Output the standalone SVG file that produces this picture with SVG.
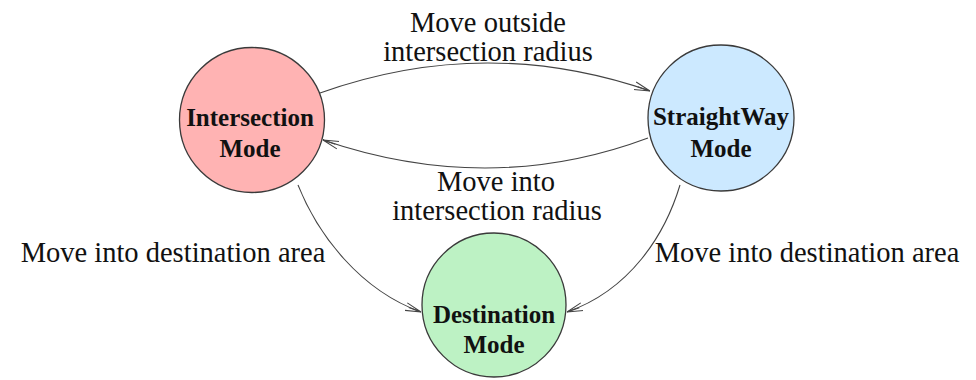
<svg xmlns="http://www.w3.org/2000/svg" width="976" height="380" viewBox="0 0 976 380">
<defs>
<style>
.node{stroke:#3a3a3a;stroke-width:1.3}
.nt{font-family:"Liberation Serif","Times New Roman",serif;font-weight:bold;font-size:25px;fill:#111;text-anchor:middle}
.lbl{font-family:"Liberation Serif","Times New Roman",serif;font-size:28.5px;fill:#111;text-anchor:middle}
.edge{fill:none;stroke:#444;stroke-width:1.1}
</style>
<marker id="arr" viewBox="0 0 16 10" refX="16" refY="5" markerWidth="16" markerHeight="10" markerUnits="userSpaceOnUse" orient="auto">
<path d="M0,1 L16,5 L0,9 M3,5 L16,5" fill="none" stroke="#444" stroke-width="1"/>
</marker>
</defs>
<rect width="976" height="380" fill="#fff"/>
<g id="connectors">
<path class="edge" d="M320,93 Q485,34 650,91" marker-end="url(#arr)"/>
<path class="edge" d="M648,138 Q490,197 323,140" marker-end="url(#arr)"/>
<path class="edge" d="M298,185 C318,235 360,290 421,312" marker-end="url(#arr)"/>
<path class="edge" d="M680,185 C665,235 630,290 567,312" marker-end="url(#arr)"/>
<text class="lbl" x="488" y="32">Move outside</text>
<text class="lbl" x="488" y="61">intersection radius</text>
<text class="lbl" x="496" y="191">Move into</text>
<text class="lbl" x="497" y="220">intersection radius</text>
<text class="lbl" x="173" y="262">Move into destination area</text>
<text class="lbl" x="807" y="262">Move into destination area</text>
</g>
<g id="intersection">
<circle class="node" cx="252" cy="120" r="72.5" fill="#ffb3b3"/>
<text class="nt" x="250" y="126">Intersection</text>
<text class="nt" x="250" y="157">Mode</text>
</g>
<g id="straightway">
<circle class="node" cx="721" cy="118" r="73" fill="#cce9ff"/>
<text class="nt" x="721" y="125">StraightWay</text>
<text class="nt" x="721" y="157">Mode</text>
</g>
<g id="destination">
<circle class="node" cx="494" cy="305" r="72" fill="#bdf2c4"/>
<text class="nt" x="494" y="323">Destination</text>
<text class="nt" x="494" y="353">Mode</text>
</g>
</svg>
